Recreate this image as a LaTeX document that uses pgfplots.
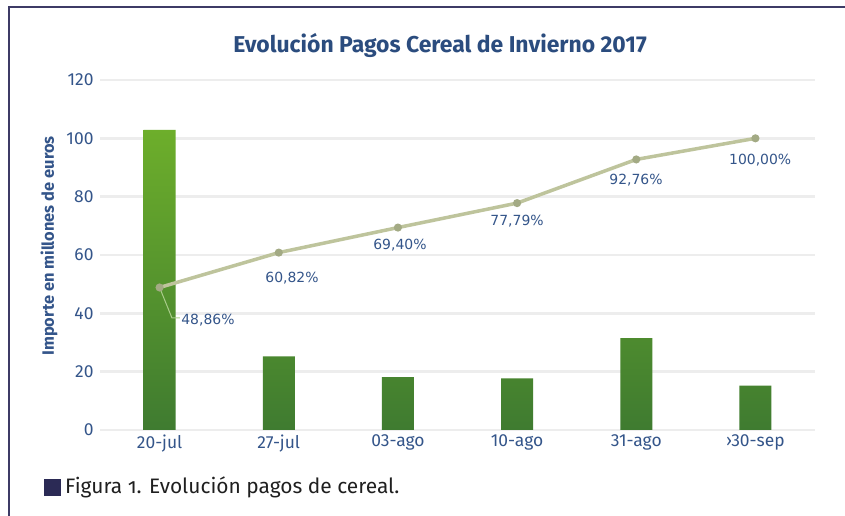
\documentclass[border=0pt]{standalone}
\usepackage{pgfplots}
\pgfplotsset{compat=1.18}
\usepackage{fontspec}
\setmainfont{Fira Sans}
\newfontfamily\dv{DejaVu Sans}
\definecolor{framec}{HTML}{3D3B66}
\definecolor{titlec}{HTML}{2B4C7E}
\definecolor{tickc}{HTML}{34558A}
\definecolor{gridc}{HTML}{EDEDED}
\definecolor{bartop}{HTML}{6DAE2B}
\definecolor{barbot}{HTML}{3F7B30}
\definecolor{linec}{HTML}{BEC49C}
\definecolor{markc}{HTML}{A3AA84}
\definecolor{leadc}{HTML}{A9CC8A}
\definecolor{sqc}{HTML}{2B2A55}
\begin{document}
\begin{tikzpicture}[x=1bp,y=1bp]
\useasboundingbox (0,0) rectangle (845,516);
\fill[white] (0,0) rectangle (845,516);
\draw[framec, line width=2bp] (9,0) -- (9,509) -- (845,509);
\begin{axis}[
  at={(100bp,86bp)}, anchor=south west, scale only axis,
  width=715bp, height=350bp,
  xmin=-0.5, xmax=5.5, ymin=0, ymax=120,
  ytick={0,20,...,120}, xtick={0,...,5},
  xticklabels={20-jul,27-jul,03-ago,10-ago,31-ago,›30-sep},
  axis line style={draw=none}, major tick length=0pt,
  ymajorgrids, grid style={gridc, line width=2.5bp},
  ticklabel style={font=\fontsize{17.5}{20}\selectfont, text=tickc},
  yticklabel style={xshift=-3bp},
  xticklabel style={yshift=-1bp},
  /pgf/number format/assume math mode=true,
  clip=false,
]
\addplot[ybar, bar width=32bp, draw=none, top color=bartop, bottom color=barbot]
  coordinates {(0,102.9) (1,25.2) (2,18.1) (3,17.7) (4,31.5) (5,15.25)};
\addplot[linec, line width=3.5bp, mark=*, mark size=2.2bp, mark options={fill=markc, draw=markc}]
  coordinates {(0,48.86) (1,60.82) (2,69.40) (3,77.79) (4,92.76) (5,100.00)};
\draw[leadc, line width=1bp] (axis cs:0,48.86) -- (axis cs:0.104,38.4) -- (axis cs:0.171,38.4);
\tikzset{lab/.style={font=\dv\fontsize{14}{16}\selectfont, text=tickc}}
\node[lab] at (axis cs:0.406,37.7) {48,86\%};
\node[lab] at (axis cs:1.111,52.1) {60,82\%};
\node[lab] at (axis cs:2.017,63.4) {69,40\%};
\node[lab] at (axis cs:3.0,71.6) {77,79\%};
\node[lab] at (axis cs:3.998,85.7) {92,76\%};
\node[lab] at (axis cs:5.04,92.6) {100,00\%};
\end{axis}
\node[font=\bfseries\fontsize{23}{26}\selectfont, text=titlec] at (440,471) {Evolución Pagos Cereal de Invierno 2017};
\node[rotate=90, font=\bfseries\fontsize{16.5}{18}\selectfont, text=tickc] at (49,270) {Importe en millones de euros};
\fill[sqc] (44,20) rectangle (61,37);
\node[anchor=west, font=\fontsize{21}{24}\selectfont\addfontfeatures{Numbers=OldStyle}, text=black!88, inner sep=0pt] at (65,29) {Figura 1. Evolución pagos de cereal.};
\end{tikzpicture}
\end{document}
